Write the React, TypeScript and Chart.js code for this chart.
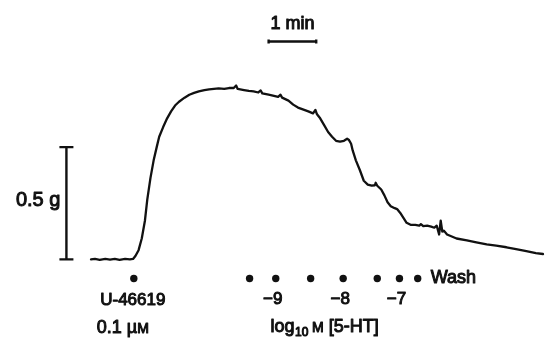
import React, { useEffect, useRef } from "react";
import { Chart, registerables } from "chart.js";

Chart.register(...registerables);

// Time (s) from start of recording
const timeS = [
  0, 5, 11, 18, 24, 30, 36, 43, 49, 53, 56, 60, 64, 68, 71, 75, 79, 83, 86, 91,
  96, 101, 106, 111, 118, 124, 130, 136, 143, 149, 155, 161, 168, 174, 180, 183,
  185, 193, 199, 205, 211, 214, 216, 224, 236, 239, 241, 249, 255, 261, 268, 274,
  280, 283, 285, 289, 294, 299, 304, 309, 314, 319, 323, 325, 328, 330, 334, 339,
  344, 349, 354, 358, 359, 361, 366, 370, 374, 378, 383, 386, 390, 394, 398, 403,
  409, 414, 416, 419, 424, 429, 433, 436, 439, 441, 443, 445, 449, 455, 461, 474,
  486, 499, 511, 524, 536, 549, 561, 570,
];
// Tension (g)
const tensionG = [
  0.0, 0.002, -0.002, 0.002, -0.001, 0.002, -0.002, 0.002, 0.0, 0.002, 0.015,
  0.041, 0.093, 0.172, 0.267, 0.363, 0.441, 0.502, 0.546, 0.589, 0.628, 0.659,
  0.685, 0.702, 0.72, 0.733, 0.741, 0.748, 0.754, 0.757, 0.759, 0.761, 0.759,
  0.763, 0.763, 0.774, 0.759, 0.754, 0.75, 0.748, 0.743, 0.752, 0.739, 0.733,
  0.724, 0.733, 0.72, 0.707, 0.689, 0.676, 0.667, 0.659, 0.65, 0.665, 0.646,
  0.628, 0.598, 0.567, 0.546, 0.528, 0.524, 0.528, 0.537, 0.533, 0.515, 0.485,
  0.441, 0.398, 0.35, 0.333, 0.328, 0.33, 0.341, 0.328, 0.311, 0.285, 0.254,
  0.237, 0.228, 0.224, 0.207, 0.185, 0.163, 0.154, 0.154, 0.15, 0.157, 0.148,
  0.15, 0.146, 0.141, 0.15, 0.111, 0.172, 0.124, 0.128, 0.111, 0.102, 0.093,
  0.085, 0.076, 0.067, 0.061, 0.054, 0.046, 0.037, 0.028, 0.024,
];

// Drug additions (s)
const agonistTime = [54];
const agonistLabels = ["U-46619"];
const htTimes = [200, 233, 277, 318, 361, 389, 412];
const htDoseLabels = ["", "−9", "", "−8", "", "−7", ""];
const washLabel = "Wash";
const markerLevel = -0.085;

// Calibration bars
const calTimeS = [224, 284]; // 1 min
const calTimeLevel = 0.97;
const calTensionG = [0, 0.5]; // 0.5 g
const calTensionTime = -31;

const FONT = '"Liberation Sans", Arial, Helvetica, sans-serif';

function drawText(
  ctx: CanvasRenderingContext2D,
  text: string,
  x: number,
  y: number,
  size: number,
  align: CanvasTextAlign = "left"
) {
  ctx.font = `${size}px ${FONT}`;
  ctx.textAlign = align;
  ctx.textBaseline = "middle";
  ctx.fillText(text, x, y);
  ctx.lineWidth = 1.0;
  ctx.lineJoin = "round";
  ctx.strokeText(text, x, y);
  return ctx.measureText(text).width;
}

const annotations = {
  id: "annotations",
  afterDatasetsDraw(chart: any) {
    const ctx: CanvasRenderingContext2D = chart.ctx;
    const xs = chart.scales.x;
    const ys = chart.scales.y;
    ctx.save();
    ctx.fillStyle = "#111";
    ctx.strokeStyle = "#111";

    // vertical calibration bar
    const vx = xs.getPixelForValue(calTensionTime);
    const vy0 = ys.getPixelForValue(calTensionG[0]);
    const vy1 = ys.getPixelForValue(calTensionG[1]);
    ctx.lineWidth = 2.4;
    ctx.beginPath();
    ctx.moveTo(vx, vy0);
    ctx.lineTo(vx, vy1);
    ctx.moveTo(vx - 7, vy0);
    ctx.lineTo(vx + 7, vy0);
    ctx.moveTo(vx - 7, vy1);
    ctx.lineTo(vx + 7, vy1);
    ctx.stroke();
    drawText(ctx, "0.5 g", vx - 6, (vy0 + vy1) / 2 - 3, 20, "right");

    // horizontal time bar
    const hx0 = xs.getPixelForValue(calTimeS[0]);
    const hx1 = xs.getPixelForValue(calTimeS[1]);
    const hy = ys.getPixelForValue(calTimeLevel);
    ctx.lineWidth = 2.4;
    ctx.beginPath();
    ctx.moveTo(hx0, hy);
    ctx.lineTo(hx1, hy);
    ctx.moveTo(hx0, hy - 2);
    ctx.lineTo(hx0, hy + 2);
    ctx.moveTo(hx1, hy - 2);
    ctx.lineTo(hx1, hy + 2);
    ctx.stroke();
    drawText(ctx, "1 min", (hx0 + hx1) / 2, hy - 17, 18, "center");

    // agonist labels
    const my = ys.getPixelForValue(markerLevel);
    const ax = xs.getPixelForValue(agonistTime[0]);
    drawText(ctx, agonistLabels[0], ax - 1, my + 22, 17, "center");
    drawText(ctx, "0.1 µ", ax - 37, my + 50, 18, "left");
    ctx.font = `18px ${FONT}`;
    const w01 = ctx.measureText("0.1 µ").width;
    drawText(ctx, "M", ax - 37 + w01, my + 51, 14, "left");

    // 5-HT dose labels
    htTimes.forEach((t, i) => {
      const lab = htDoseLabels[i];
      if (!lab) return;
      const px = xs.getPixelForValue(t);
      drawText(ctx, lab, px - 3, my + 21, 17, "center");
    });
    const lastX = xs.getPixelForValue(htTimes[htTimes.length - 1]);
    drawText(ctx, washLabel, lastX + 13, my, 18, "left");

    // log10 M [5-HT]
    let lx = xs.getPixelForValue(htTimes[0]) + 21;
    const ly = my + 49;
    lx += drawText(ctx, "log", lx, ly, 18, "left");
    lx += drawText(ctx, "10", lx + 0.5, ly + 5, 12, "left") + 4;
    lx += drawText(ctx, "M", lx, ly + 1, 14, "left") + 5;
    drawText(ctx, "[5-HT]", lx, ly, 18, "left");

    ctx.restore();
  },
};

export default function App() {
  const ref = useRef<HTMLCanvasElement | null>(null);
  useEffect(() => {
    if (!ref.current) return;
    const trace = timeS.map((t, i) => ({ x: t, y: tensionG[i] }));
    const markers = [
      ...agonistTime.map((t) => ({ x: t, y: markerLevel })),
      ...htTimes.map((t) => ({ x: t, y: markerLevel })),
    ];
    const chart = new Chart(ref.current, {
      type: "line",
      data: {
        datasets: [
          {
            data: trace,
            borderColor: "#111",
            borderWidth: 2.3,
            pointRadius: 0,
            tension: 0,
            fill: false,
            borderJoinStyle: "round",
            borderCapStyle: "round",
            clip: false,
          } as any,
          {
            type: "scatter",
            data: markers,
            showLine: false,
            pointRadius: 3.7,
            pointBackgroundColor: "#111",
            pointBorderWidth: 0,
            borderColor: "#111",
            clip: false,
          } as any,
        ],
      },
      options: {
        responsive: false,
        animation: false,
        events: [],
        layout: { padding: { left: 91, right: 0, top: 0, bottom: 0 } },
        plugins: { legend: { display: false }, tooltip: { enabled: false } },
        scales: {
          x: { type: "linear", display: false, min: 0, max: 570 },
          y: { type: "linear", display: false, min: -0.35, max: 1.137 },
        },
      },
      plugins: [annotations],
    });
    return () => chart.destroy();
  }, []);
  return (
    <div
      style={{
        position: "absolute",
        left: 0,
        top: 0,
        width: 547,
        height: 342,
        background: "#fff",
      }}
    >
      <canvas ref={ref} width={547} height={342} style={{ display: "block" }} />
    </div>
  );
}
